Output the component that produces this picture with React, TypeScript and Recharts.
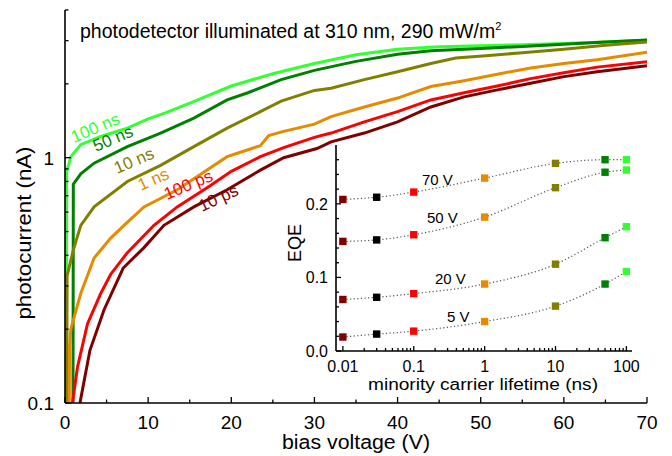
import React from 'react';
import { LineChart, ComposedChart, Line, XAxis, YAxis, CartesianGrid } from 'recharts';

const FONT = 'Arial, "Liberation Sans", Helvetica, sans-serif';

// photocurrent (nA) vs bias voltage (V), one pair per minority carrier lifetime
const bias100ns = [0.15, 0.2, 0.5, 0.7, 1.9, 4.3, 7.5, 10, 12, 15.4, 20, 25, 30, 35, 40, 45, 50, 55, 60, 65, 70];
const cur100ns = [0.05, 0.88, 0.95, 1.01, 1.13, 1.22, 1.32, 1.44, 1.52, 1.69, 1.96, 2.2, 2.42, 2.63, 2.77, 2.83, 2.86, 2.89, 2.92, 2.96, 3.01];

const bias50ns = [0.95, 1.0, 1.9, 3.5, 7.5, 11.5, 15.5, 19.5, 22, 26, 30, 35, 40, 44, 50, 55, 60, 65, 70];
const cur50ns = [0.05, 0.78, 0.86, 0.95, 1.11, 1.26, 1.45, 1.72, 1.84, 2.08, 2.27, 2.47, 2.64, 2.73, 2.79, 2.84, 2.9, 2.96, 3.02];

const bias10ns = [0.2, 0.25, 1.0, 1.9, 3.5, 7.5, 11.5, 15.5, 19.5, 23.5, 26, 30, 32, 36, 40, 44, 47, 51, 55, 60, 65, 70];
const cur10ns = [0.05, 0.33, 0.42, 0.53, 0.63, 0.8, 0.93, 1.11, 1.32, 1.54, 1.7, 1.88, 1.92, 2.08, 2.24, 2.42, 2.55, 2.61, 2.68, 2.77, 2.87, 2.96];

const bias1ns = [0.45, 0.55, 0.7, 1.9, 3.5, 5.5, 7.1, 9.5, 13.5, 15.5, 19.5, 21, 23.5, 24.5, 26.3, 30, 32, 36, 40, 44, 48, 52, 56, 60, 64, 70];
const cur1ns = [0.05, 0.17, 0.2, 0.28, 0.39, 0.47, 0.53, 0.63, 0.74, 0.82, 1.01, 1.05, 1.12, 1.23, 1.28, 1.37, 1.47, 1.61, 1.75, 1.95, 2.06, 2.19, 2.32, 2.42, 2.51, 2.69];

const bias100ps = [0.8, 0.9, 1.5, 2.7, 4.3, 5.5, 7.5, 10.7, 13.5, 17.5, 20, 23.5, 26.3, 30, 32, 36, 40, 44, 48, 52, 56, 60, 64, 70];
const cur100ps = [0.05, 0.1, 0.14, 0.21, 0.28, 0.335, 0.41, 0.53, 0.63, 0.77, 0.88, 1.01, 1.1, 1.21, 1.26, 1.4, 1.54, 1.72, 1.84, 1.96, 2.1, 2.22, 2.34, 2.46];

const bias10ps = [1.7, 1.8, 3.0, 4.7, 7.0, 9.5, 11.9, 15.5, 19.5, 23.5, 26.3, 30.3, 32, 36, 40, 44, 48, 52, 56, 60, 64, 70];
const cur10ps = [0.05, 0.1, 0.164, 0.24, 0.355, 0.43, 0.53, 0.63, 0.74, 0.89, 1.0, 1.09, 1.16, 1.26, 1.4, 1.61, 1.77, 1.89, 2.01, 2.14, 2.24, 2.37];

const curves = [
  { name: '100 ns', color: '#33ff33', bias: bias100ns, cur: cur100ns },
  { name: '50 ns', color: '#008000', bias: bias50ns, cur: cur50ns },
  { name: '10 ns', color: '#808000', bias: bias10ns, cur: cur10ns },
  { name: '1 ns', color: '#e68a00', bias: bias1ns, cur: cur1ns },
  { name: '100 ps', color: '#ff0000', bias: bias100ps, cur: cur100ps },
  { name: '10 ps', color: '#800000', bias: bias10ps, cur: cur10ps },
];

const mainXTicks = [0, 5, 10, 15, 20, 25, 30, 35, 40, 45, 50, 55, 60, 65, 70];
const mainXLabels = [0, 10, 20, 30, 40, 50, 60, 70];
const mainYTicks = [0.1, 0.2, 0.3, 0.4, 0.5, 0.6, 0.7, 0.8, 0.9, 1, 2, 3, 4];
const mainYLabels = [0.1, 1];

// inset: EQE vs minority carrier lifetime (ns)
const lifetimes = [0.01, 0.03, 0.1, 1, 10, 50, 100];
const lifetimeColors = ['#800000', '#000000', '#ff0000', '#e68a00', '#808000', '#008000', '#33ff33'];
const eqe70V = [0.206, 0.209, 0.216, 0.235, 0.255, 0.26, 0.26];
const eqe50V = [0.149, 0.151, 0.158, 0.182, 0.222, 0.243, 0.246];
const eqe20V = [0.070, 0.073, 0.078, 0.091, 0.118, 0.154, 0.169];
const eqe5V = [0.019, 0.023, 0.027, 0.040, 0.061, 0.091, 0.108];

const insetXLabels = [0.01, 0.1, 1, 10, 100];
const insetXTicks = [0.01, 0.1, 1, 10].flatMap(d => [1, 2, 3, 4, 5, 6, 7, 8, 9].map(k => +(k * d).toPrecision(2))).concat([100]);
const insetYTicks = [0, 0.02, 0.04, 0.06, 0.08, 0.1, 0.12, 0.14, 0.16, 0.18, 0.2, 0.22, 0.24, 0.26];
const insetYLabels = [0, 0.1, 0.2];

const toRows = (xs: number[], ys: number[]) => xs.map((x, i) => ({ x, y: ys[i] }));

type Side = 'bottom' | 'top' | 'left' | 'right';

function makeTick(side: Side, majors: number[], major: number, minor: number, fmt: ((v: number) => string) | null, fontSize: number, gap: number) {
  return (props: any) => {
    const { x, y, payload } = props;
    const v = payload.value;
    const isMajor = majors.some(m => Math.abs(m - v) < 1e-9);
    const len = isMajor ? major : minor;
    let x2 = x, y2 = y;
    if (side === 'bottom') y2 = y - len;
    if (side === 'top') y2 = y + len;
    if (side === 'left') x2 = x + len;
    if (side === 'right') x2 = x - len;
    let label = null;
    if (fmt && isMajor) {
      if (side === 'bottom') {
        label = <text x={x} y={y + gap} textAnchor="middle" fontSize={fontSize} fontFamily={FONT} fill="#000">{fmt(v)}</text>;
      } else if (side === 'left') {
        label = <text x={x - gap} y={y + fontSize * 0.36} textAnchor="end" fontSize={fontSize} fontFamily={FONT} fill="#000">{fmt(v)}</text>;
      }
    }
    return (
      <g>
        <line x1={x} y1={y} x2={x2} y2={y2} stroke="#000" strokeWidth={1.3} />
        {label}
      </g>
    );
  };
}

const axisLine = { stroke: '#000', strokeWidth: 1.6 };

function MainChart() {
  return (
    <LineChart width={672} height={456} margin={{ top: 10, right: 25, bottom: 0, left: 0 }}>
      <XAxis xAxisId="b" type="number" dataKey="x" domain={[0, 70]} ticks={mainXTicks} interval={0}
        allowDataOverflow height={53} tickSize={0} tickMargin={0} axisLine={axisLine} tickLine={false}
        tick={makeTick('bottom', mainXLabels, 6, 3.5, v => String(v), 19, 26)} />
      <XAxis xAxisId="t" orientation="top" type="number" dataKey="x" domain={[0, 70]} ticks={mainXTicks} interval={0}
        allowDataOverflow height={0} tickSize={0} tickMargin={0} axisLine={axisLine} tickLine={false}
        tick={makeTick('top', mainXLabels, 6, 3.5, null, 19, 0)} />
      <YAxis yAxisId="l" type="number" dataKey="y" scale="log" domain={[0.1, 4]} ticks={mainYTicks} interval={0}
        allowDataOverflow width={65} tickSize={0} tickMargin={0} axisLine={axisLine} tickLine={false}
        tick={makeTick('left', mainYLabels, 6, 3.5, v => String(v), 19, 11)} />
      <YAxis yAxisId="r" orientation="right" type="number" dataKey="y" scale="log" domain={[0.1, 4]} ticks={mainYTicks} interval={0}
        allowDataOverflow width={0} tickSize={0} tickMargin={0} axisLine={axisLine} tickLine={false}
        tick={makeTick('right', mainYLabels, 6, 3.5, null, 19, 0)} />
      {curves.map(c => (
        <Line key={c.name} xAxisId="b" yAxisId="l" data={toRows(c.bias, c.cur)} dataKey="y" type="linear"
          stroke={c.color} strokeWidth={3} dot={false} isAnimationActive={false} />
      ))}
      <Line xAxisId="t" yAxisId="r" data={toRows(bias100ns, cur100ns)} dataKey="y" stroke="none" dot={false} isAnimationActive={false} />
    </LineChart>
  );
}

const squareDot = (props: any) => {
  const { cx, cy, index } = props;
  if (cx == null || cy == null) return <g key={index} />;
  return <rect key={index} x={cx - 3.7} y={cy - 3.7} width={7.4} height={7.4} fill={lifetimeColors[index]} />;
};

function InsetChart() {
  const fmtX = (v: number) => String(v);
  const fmtY = (v: number) => v.toFixed(1);
  const sets = [eqe70V, eqe50V, eqe20V, eqe5V];
  return (
    <ComposedChart width={380} height={255} margin={{ top: 5, right: 18, bottom: 0, left: 0 }}>
      <CartesianGrid xAxisId="b" yAxisId="l" fill="#fff" stroke="none" />
      <XAxis xAxisId="b" type="number" dataKey="x" scale="log" domain={[0.008, 120]} ticks={insetXTicks} interval={0}
        allowDataOverflow height={44} tickSize={0} tickMargin={0} axisLine={axisLine} tickLine={false}
        tick={makeTick('bottom', insetXLabels, 5, 3, fmtX, 16, 21)} />
      <XAxis xAxisId="t" orientation="top" type="number" dataKey="x" scale="log" domain={[0.008, 120]} ticks={insetXTicks} interval={0}
        allowDataOverflow height={0} tickSize={0} tickMargin={0} axisLine={axisLine} tickLine={false}
        tick={makeTick('top', insetXLabels, 5, 3, null, 16, 0)} />
      <YAxis yAxisId="l" type="number" dataKey="y" domain={[0, 0.28]} ticks={insetYTicks} interval={0}
        allowDataOverflow width={66} tickSize={0} tickMargin={0} axisLine={axisLine} tickLine={false}
        tick={makeTick('left', insetYLabels, 5, 3, fmtY, 16, 8)} />
      <YAxis yAxisId="r" orientation="right" type="number" dataKey="y" domain={[0, 0.28]} ticks={insetYTicks} interval={0}
        allowDataOverflow width={0} tickSize={0} tickMargin={0} axisLine={axisLine} tickLine={false}
        tick={makeTick('right', insetYLabels, 5, 3, null, 16, 0)} />
      {sets.map((s, k) => (
        <Line key={k} xAxisId="b" yAxisId="l" data={toRows(lifetimes, s)} dataKey="y" type="monotone"
          stroke="#555" strokeWidth={1.2} strokeDasharray="1.2 2.4" dot={squareDot} isAnimationActive={false} />
      ))}
      <Line xAxisId="t" yAxisId="r" data={toRows(lifetimes, eqe5V)} dataKey="y" stroke="none" dot={false} isAnimationActive={false} />
    </ComposedChart>
  );
}

const curveLabels = [
  { text: '100 ns', color: '#33ff33', x: 74, y: 143, a: -23 },
  { text: '50 ns', color: '#008000', x: 96, y: 152, a: -23 },
  { text: '10 ns', color: '#808000', x: 117, y: 174, a: -23 },
  { text: '1 ns', color: '#e68a00', x: 141, y: 191, a: -24 },
  { text: '100 ps', color: '#ff0000', x: 167, y: 200, a: -23 },
  { text: '10 ps', color: '#800000', x: 202, y: 212, a: -25 },
];

const voltLabels = [
  { text: '70 V', x: 422, y: 185 },
  { text: '50 V', x: 427, y: 223 },
  { text: '20 V', x: 435, y: 284 },
  { text: '5 V', x: 447, y: 322 },
];

function Overlay() {
  return (
    <svg width={672} height={456} style={{ position: 'absolute', left: 0, top: 0, pointerEvents: 'none' }} fontFamily={FONT}>
      <text x={80} y={37.5} fontSize={19.5} fill="#000">
        photodetector illuminated at 310 nm, 290 mW/m<tspan fontSize={11} dy={-8}>2</tspan>
      </text>
      <text transform="translate(31,233) rotate(-90)" textAnchor="middle" fontSize={20} textLength={173} lengthAdjust="spacingAndGlyphs">photocurrent (nA)</text>
      <text x={356} y={449} textAnchor="middle" fontSize={20} textLength={148} lengthAdjust="spacingAndGlyphs">bias voltage (V)</text>
      <text transform="translate(301,243) rotate(-90)" textAnchor="middle" fontSize={18}>EQE</text>
      <text x={483} y={390} textAnchor="middle" fontSize={16} textLength={230} lengthAdjust="spacingAndGlyphs">minority carrier lifetime (ns)</text>
      {curveLabels.map(l => (
        <text key={l.text} transform={`translate(${l.x},${l.y}) rotate(${l.a})`} fontSize={17} fill={l.color}>{l.text}</text>
      ))}
      {voltLabels.map(l => (
        <text key={l.text} x={l.x} y={l.y} fontSize={15} fill="#000">{l.text}</text>
      ))}
    </svg>
  );
}

export default function App() {
  return (
    <div style={{ position: 'absolute', left: 0, top: 0, width: 672, height: 456, background: '#fff' }}>
      <div style={{ position: 'absolute', left: 0, top: 0 }}><MainChart /></div>
      <div style={{ position: 'absolute', left: 270, top: 140 }}><InsetChart /></div>
      <Overlay />
    </div>
  );
}
